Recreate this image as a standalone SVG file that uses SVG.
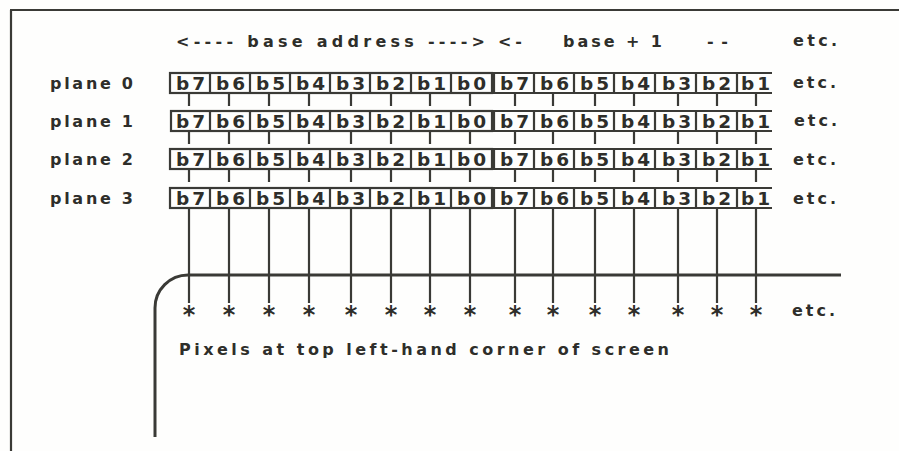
<svg xmlns="http://www.w3.org/2000/svg" width="899" height="451" viewBox="0 0 899 451">
<style>
.ln{fill:none;stroke:#3a3a36;stroke-width:2.2}
.thk{fill:none;stroke:#3a3a36;stroke-width:3}
.t{font-family:"DejaVu Sans","Liberation Sans",sans-serif;font-weight:bold;fill:#2e2e2a}
.lb{font-size:16px}
.c{font-size:18.5px;text-anchor:middle;letter-spacing:3px}
.ast{font-size:24px;text-anchor:middle}
</style>
<rect width="899" height="451" fill="#fefefd"/>
<g id="frame">
<path class="ln" d="M10,10 H899 M11,10 V451"/>
</g>
<g id="header">
<text class="t lb" x="176" y="47" textLength="309" lengthAdjust="spacing">&lt;---- base address ----&gt;</text>
<text class="t lb" x="498" y="47" textLength="24" lengthAdjust="spacing">&lt;-</text>
<text class="t lb" x="563" y="47" textLength="99" lengthAdjust="spacing">base + 1</text>
<text class="t lb" x="707" y="47" textLength="21" lengthAdjust="spacing">--</text>
<text class="t lb" x="793" y="46" textLength="44" lengthAdjust="spacing">etc.</text>
</g>
<g id="plane0">
<text class="t lb" x="50" y="89" textLength="83" lengthAdjust="spacing">plane 0</text>
<rect class="ln" x="170" y="73" width="322" height="20"/>
<path class="ln" d="M210,73V93M250,73V93M290,73V93M330,73V93M370,73V93M411,73V93M451,73V93"/>
<path class="ln" d="M772,73H494V93H772M534,73V93M574,73V93M614,73V93M655,73V93M696,73V93M737,73V93"/>
<text class="t c" x="192" y="90">b7</text><text class="t c" x="232" y="90">b6</text><text class="t c" x="272" y="90">b5</text><text class="t c" x="312" y="90">b4</text><text class="t c" x="352" y="90">b3</text><text class="t c" x="392" y="90">b2</text><text class="t c" x="433" y="90">b1</text><text class="t c" x="473" y="90">b0</text>
<text class="t c" x="516" y="90">b7</text><text class="t c" x="556" y="90">b6</text><text class="t c" x="596" y="90">b5</text><text class="t c" x="637" y="90">b4</text><text class="t c" x="678" y="90">b3</text><text class="t c" x="718" y="90">b2</text><text class="t c" x="757" y="90">b1</text>
<text class="t lb" x="793" y="88" textLength="43" lengthAdjust="spacing">etc.</text>
</g>
<g id="plane1">
<text class="t lb" x="50" y="127" textLength="83" lengthAdjust="spacing">plane 1</text>
<rect class="ln" x="171" y="111" width="321" height="20"/>
<path class="ln" d="M210,111V131M250,111V131M290,111V131M330,111V131M370,111V131M411,111V131M451,111V131"/>
<path class="ln" d="M772,111H494V131H772M534,111V131M574,111V131M614,111V131M655,111V131M696,111V131M737,111V131"/>
<text class="t c" x="192" y="128">b7</text><text class="t c" x="232" y="128">b6</text><text class="t c" x="272" y="128">b5</text><text class="t c" x="312" y="128">b4</text><text class="t c" x="352" y="128">b3</text><text class="t c" x="392" y="128">b2</text><text class="t c" x="433" y="128">b1</text><text class="t c" x="473" y="128">b0</text>
<text class="t c" x="516" y="128">b7</text><text class="t c" x="556" y="128">b6</text><text class="t c" x="596" y="128">b5</text><text class="t c" x="637" y="128">b4</text><text class="t c" x="678" y="128">b3</text><text class="t c" x="718" y="128">b2</text><text class="t c" x="757" y="128">b1</text>
<text class="t lb" x="794" y="126" textLength="43" lengthAdjust="spacing">etc.</text>
</g>
<g id="plane2">
<text class="t lb" x="50" y="165" textLength="83" lengthAdjust="spacing">plane 2</text>
<rect class="ln" x="170" y="149" width="322" height="20"/>
<path class="ln" d="M210,149V169M250,149V169M290,149V169M330,149V169M370,149V169M411,149V169M451,149V169"/>
<path class="ln" d="M772,149H494V169H772M534,149V169M574,149V169M614,149V169M655,149V169M696,149V169M737,149V169"/>
<text class="t c" x="192" y="166">b7</text><text class="t c" x="232" y="166">b6</text><text class="t c" x="272" y="166">b5</text><text class="t c" x="312" y="166">b4</text><text class="t c" x="352" y="166">b3</text><text class="t c" x="392" y="166">b2</text><text class="t c" x="433" y="166">b1</text><text class="t c" x="473" y="166">b0</text>
<text class="t c" x="516" y="166">b7</text><text class="t c" x="556" y="166">b6</text><text class="t c" x="596" y="166">b5</text><text class="t c" x="637" y="166">b4</text><text class="t c" x="678" y="166">b3</text><text class="t c" x="718" y="166">b2</text><text class="t c" x="757" y="166">b1</text>
<text class="t lb" x="793" y="165" textLength="43" lengthAdjust="spacing">etc.</text>
</g>
<g id="plane3">
<text class="t lb" x="50" y="204" textLength="83" lengthAdjust="spacing">plane 3</text>
<rect class="ln" x="170" y="188" width="322" height="20"/>
<path class="ln" d="M210,188V208M250,188V208M290,188V208M330,188V208M370,188V208M411,188V208M451,188V208"/>
<path class="ln" d="M772,188H494V208H772M534,188V208M574,188V208M614,188V208M655,188V208M696,188V208M737,188V208"/>
<text class="t c" x="192" y="205">b7</text><text class="t c" x="232" y="205">b6</text><text class="t c" x="272" y="205">b5</text><text class="t c" x="312" y="205">b4</text><text class="t c" x="352" y="205">b3</text><text class="t c" x="392" y="205">b2</text><text class="t c" x="433" y="205">b1</text><text class="t c" x="473" y="205">b0</text>
<text class="t c" x="516" y="205">b7</text><text class="t c" x="556" y="205">b6</text><text class="t c" x="596" y="205">b5</text><text class="t c" x="637" y="205">b4</text><text class="t c" x="678" y="205">b3</text><text class="t c" x="718" y="205">b2</text><text class="t c" x="757" y="205">b1</text>
<text class="t lb" x="793" y="204" textLength="43" lengthAdjust="spacing">etc.</text>
</g>
<g id="connectors">
<path class="ln" d="M189,93V106M229,93V106M269,93V106M309,93V106M351,93V106M391,93V106M430,93V106M470,93V106M515,93V106M553,93V106M595,93V106M634,93V106M678,93V106M717,93V106M756,93V106"/>
<path class="ln" d="M189,131V144M229,131V144M269,131V144M309,131V144M351,131V144M391,131V144M430,131V144M470,131V144M515,131V144M553,131V144M595,131V144M634,131V144M678,131V144M717,131V144M756,131V144"/>
<path class="ln" d="M189,169V182M229,169V182M269,169V182M309,169V182M351,169V182M391,169V182M430,169V182M470,169V182M515,169V182M553,169V182M595,169V182M634,169V182M678,169V182M717,169V182M756,169V182"/>
<path class="ln" d="M189,208V303M229,208V303M269,208V303M309,208V303M351,208V303M391,208V303M430,208V303M470,208V303M515,208V303M553,208V303M595,208V303M634,208V303M678,208V303M717,208V303M756,208V303"/>
</g>
<g id="screen">
<path class="thk" d="M841,275H188A33,33 0 0 0 155,308V437"/>
</g>
<g id="pixels">
<text class="t ast" x="189" y="323">*</text><text class="t ast" x="229" y="323">*</text><text class="t ast" x="269" y="323">*</text><text class="t ast" x="309" y="323">*</text><text class="t ast" x="351" y="323">*</text><text class="t ast" x="391" y="323">*</text><text class="t ast" x="430" y="323">*</text><text class="t ast" x="470" y="323">*</text>
<text class="t ast" x="515" y="323">*</text><text class="t ast" x="553" y="323">*</text><text class="t ast" x="595" y="323">*</text><text class="t ast" x="634" y="323">*</text><text class="t ast" x="678" y="323">*</text><text class="t ast" x="717" y="323">*</text><text class="t ast" x="756" y="323">*</text>
<text class="t lb" x="792" y="316" textLength="43" lengthAdjust="spacing">etc.</text>
<text class="t lb" x="179" y="355" textLength="490" lengthAdjust="spacing">Pixels at top left-hand corner of screen</text>
</g>
</svg>
